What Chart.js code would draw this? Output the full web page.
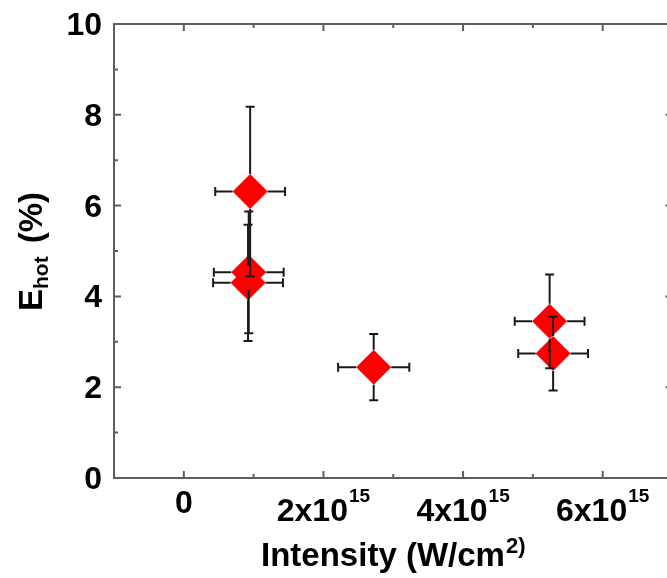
<!DOCTYPE html>
<html><head><meta charset="utf-8">
<script src="https://cdn.jsdelivr.net/npm/chart.js@4"></script>
<style>
html,body{margin:0;padding:0;overflow:hidden;background:#fff;}
#wrap{position:relative;width:690px;height:578px;}
</style></head><body>
<div id="wrap"><canvas id="c"></canvas></div>
<script>
// ---- data ----
const intensity    = [0.95e15, 0.93e15, 0.92e15, 2.72e15, 5.24e15, 5.29e15];
const intensityErr = [0.50e15, 0.50e15, 0.50e15, 0.51e15, 0.50e15, 0.50e15];
const ehot         = [6.31, 4.53, 4.30, 2.44, 3.45, 2.74];
const ehotErr      = [1.87, 1.34, 1.28, 0.73, 1.03, 0.81];

const xTickValues = [0, 2e15, 4e15, 6e15];
const xTickBase   = ['0', '2x10', '4x10', '6x10'];
const xTickSup    = ['', '15', '15', '15'];
const xMinorTicks = [1e15, 3e15, 5e15];
const yTickValues = [0, 2, 4, 6, 8, 10];
const yTickLabels = ['0', '2', '4', '6', '8', '10'];
const yMinorTicks = [1, 3, 5, 7, 9];

const xTitleMain = 'Intensity (W/cm';
const xTitleSup  = '2)';
const yTitleMain = 'E';
const yTitleSub  = 'hot';
const yTitleTail = '(%)';

const FONT = '"Liberation Sans", Arial, Helvetica, sans-serif';
const f = (s) => 'bold ' + s + 'px ' + FONT;

const decor = {
  id: 'decor',
  afterDatasetsDraw(chart) {
    const {ctx, scales: {x, y}} = chart;
    const r = chart.data.datasets[0].pointRadius;
    const cap = 4.5;
    ctx.save();
    ctx.strokeStyle = '#1a1a1a';
    ctx.lineWidth = 2;
    for (let i = 0; i < ehot.length; i++) {
      const px = x.getPixelForValue(intensity[i]);
      const py = y.getPixelForValue(ehot[i]);
      const yt = y.getPixelForValue(ehot[i] + ehotErr[i]);
      const yb = y.getPixelForValue(ehot[i] - ehotErr[i]);
      const xl = x.getPixelForValue(intensity[i] - intensityErr[i]);
      const xr = x.getPixelForValue(intensity[i] + intensityErr[i]);
      ctx.beginPath();
      ctx.moveTo(px, py - r); ctx.lineTo(px, yt);
      ctx.moveTo(px - cap, yt); ctx.lineTo(px + cap, yt);
      ctx.moveTo(px, py + r); ctx.lineTo(px, yb);
      ctx.moveTo(px - cap, yb); ctx.lineTo(px + cap, yb);
      ctx.moveTo(px - r, py); ctx.lineTo(xl, py);
      ctx.moveTo(xl, py - cap); ctx.lineTo(xl, py + cap);
      ctx.moveTo(px + r, py); ctx.lineTo(xr, py);
      ctx.moveTo(xr, py - cap); ctx.lineTo(xr, py + cap);
      ctx.stroke();
    }
    ctx.restore();
  },
  afterDraw(chart) {
    const {ctx, chartArea: a, scales: {x, y}} = chart;
    ctx.save();
    // frame
    ctx.strokeStyle = '#5e5e5e';
    ctx.lineWidth = 2;
    ctx.strokeRect(a.left, a.top, a.right - a.left, a.bottom - a.top);
    // ticks (inward, all four sides)
    ctx.beginPath();
    const major = 7, minor = 4;
    xTickValues.forEach(v => {
      const p = x.getPixelForValue(v);
      ctx.moveTo(p, a.bottom); ctx.lineTo(p, a.bottom - major);
      ctx.moveTo(p, a.top); ctx.lineTo(p, a.top + major);
    });
    xMinorTicks.forEach(v => {
      const p = x.getPixelForValue(v);
      ctx.moveTo(p, a.bottom); ctx.lineTo(p, a.bottom - minor);
      ctx.moveTo(p, a.top); ctx.lineTo(p, a.top + minor);
    });
    yTickValues.forEach(v => {
      const p = y.getPixelForValue(v);
      ctx.moveTo(a.left, p); ctx.lineTo(a.left + major, p);
      ctx.moveTo(a.right, p); ctx.lineTo(a.right - major, p);
    });
    yMinorTicks.forEach(v => {
      const p = y.getPixelForValue(v);
      ctx.moveTo(a.left, p); ctx.lineTo(a.left + minor, p);
      ctx.moveTo(a.right, p); ctx.lineTo(a.right - minor, p);
    });
    ctx.stroke();

    ctx.fillStyle = '#000';
    ctx.textBaseline = 'alphabetic';
    // y tick labels
    ctx.font = f(32);
    ctx.textAlign = 'right';
    yTickValues.forEach((v, i) => {
      ctx.fillText(yTickLabels[i], a.left - 12, y.getPixelForValue(v) + 11);
    });
    // x tick labels with superscripts
    ctx.textAlign = 'left';
    xTickValues.forEach((v, i) => {
      const p = x.getPixelForValue(v);
      ctx.font = f(32);
      const wb = ctx.measureText(xTickBase[i]).width;
      ctx.font = f(19);
      const ws = xTickSup[i] ? ctx.measureText(xTickSup[i]).width + 1 : 0;
      const start = p - (wb + ws) / 2;
      ctx.font = f(32);
      ctx.fillText(xTickBase[i], start, xTickSup[i] ? a.bottom + 43 : a.bottom + 35);
      if (xTickSup[i]) {
        ctx.font = f(19);
        ctx.fillText(xTickSup[i], start + wb + 1, a.bottom + 24);
      }
    });
    // x title
    const cx = (a.left + a.right) / 2;
    ctx.font = f(33);
    const wm = ctx.measureText(xTitleMain).width;
    ctx.font = f(22);
    const wsu = ctx.measureText(xTitleSup).width;
    const sx = cx - (wm + wsu + 1) / 2;
    ctx.font = f(33);
    ctx.fillText(xTitleMain, sx, 566);
    ctx.font = f(22);
    ctx.fillText(xTitleSup, sx + wm + 1, 553);
    // y title (rotated, reads bottom to top)
    ctx.save();
    ctx.translate(42, (a.top + a.bottom) / 2 + 60);
    ctx.rotate(-Math.PI / 2);
    ctx.font = f(33);
    const w1 = ctx.measureText(yTitleMain).width;
    ctx.fillText(yTitleMain, 0, 0);
    ctx.font = f(21);
    const w2 = ctx.measureText(yTitleSub).width;
    ctx.fillText(yTitleSub, w1, 6);
    ctx.font = f(33);
    ctx.fillText(yTitleTail, w1 + w2 + 13, 0);
    ctx.restore();
    ctx.restore();
  }
};

new Chart(document.getElementById('c'), {
  type: 'scatter',
  data: {
    datasets: [{
      data: intensity.map((v, i) => ({x: v, y: ehot[i]})),
      pointStyle: 'rectRot',
      pointRadius: 17.5,
      pointHoverRadius: 17.5,
      backgroundColor: '#ff0000',
      borderWidth: 0
    }]
  },
  options: {
    responsive: true,
    maintainAspectRatio: false,
    animation: false,
    layout: {padding: {left: 114, top: 24, right: 17, bottom: 100}},
    scales: {
      x: {type: 'linear', display: false, min: -1e15, max: 7e15},
      y: {type: 'linear', display: false, min: 0, max: 10}
    },
    plugins: {legend: {display: false}, tooltip: {enabled: false}}
  },
  plugins: [decor]
});
</script>
</body></html>
